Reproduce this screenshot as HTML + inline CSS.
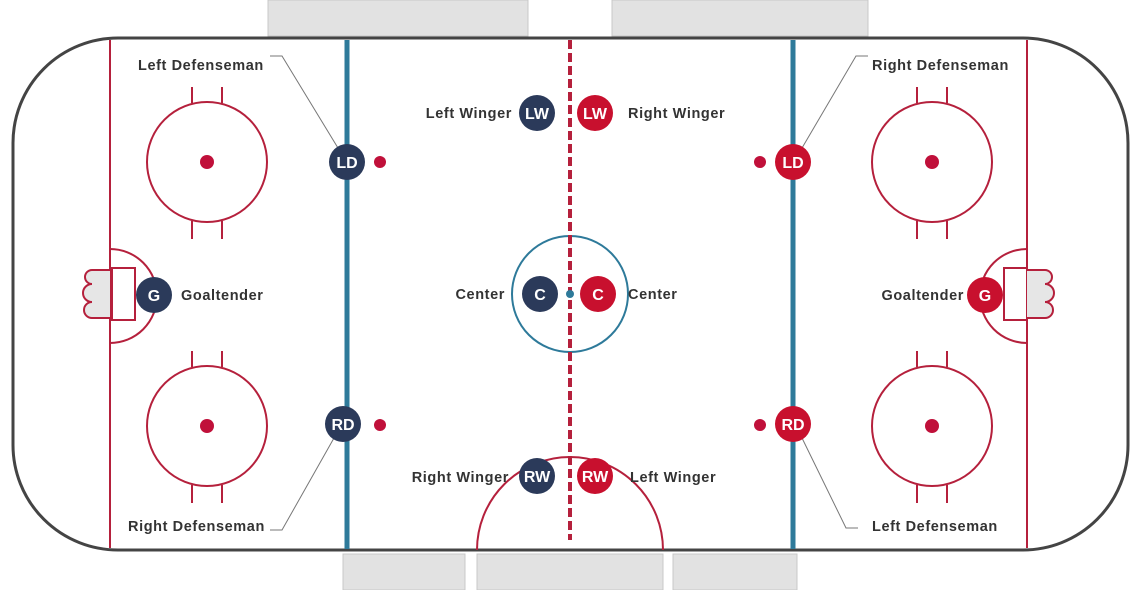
<!DOCTYPE html>
<html><head><meta charset="utf-8"><style>
html,body{margin:0;padding:0;background:#fff}
svg{display:block}
text{font-family:"Liberation Sans",sans-serif;font-weight:bold}
.lbl{font-size:14.5px;fill:#333;letter-spacing:0.6px}
.e{text-anchor:end}
.pl{font-size:16px;fill:#fff;text-anchor:middle}
</style></head><body>
<svg width="1140" height="590" viewBox="0 0 1140 590">
<g fill="#e2e2e2" stroke="#c8c8c8">
<rect x="268" y="0" width="260" height="36"/>
<rect x="612" y="0" width="256" height="36"/>
<rect x="343" y="554" width="122" height="36"/>
<rect x="477" y="554" width="186" height="36"/>
<rect x="673" y="554" width="124" height="36"/>
</g>
<rect x="13" y="38" width="1115" height="512" rx="105" ry="105" fill="#fff" stroke="#444" stroke-width="3"/>
<g stroke="#b5203c" stroke-width="2" fill="none">
<line x1="110" y1="40" x2="110" y2="548"/>
<line x1="1027" y1="40" x2="1027" y2="548"/>
<circle cx="207" cy="162" r="60"/><circle cx="207" cy="426" r="60"/>
<circle cx="932" cy="162" r="60"/><circle cx="932" cy="426" r="60"/>
<path d="M192 87v16M222 87v16M192 221v18M222 221v18M192 351v16M222 351v16M192 485v18M222 485v18"/>
<path d="M917 87v16M947 87v16M917 221v18M947 221v18M917 351v16M947 351v16M917 485v18M947 485v18"/>
<path d="M110 249 A47 47 0 0 1 110 343"/>
<path d="M1027 249 A47 47 0 0 0 1027 343"/>
<rect x="112" y="268" width="23" height="52" fill="#fff"/>
<rect x="1004" y="268" width="23" height="52" fill="#fff"/>
<path d="M110 270 h-18 a6 6 0 0 0 0 14 a8 8 0 0 0 0 18 a6 6 0 0 0 0 16 h18" fill="#e6e6e6"/>
<path d="M1027 270 h18 a6 6 0 0 1 0 14 a8 8 0 0 1 0 18 a6 6 0 0 1 0 16 h-18" fill="#e6e6e6"/>
<path d="M477 550 A93 93 0 0 1 663 550"/>
</g>
<g fill="#c0103a">
<circle cx="207" cy="162" r="7"/><circle cx="207" cy="426" r="7"/>
<circle cx="932" cy="162" r="7"/><circle cx="932" cy="426" r="7"/>
<circle cx="380" cy="162" r="6"/><circle cx="380" cy="425" r="6"/>
<circle cx="760" cy="162" r="6"/><circle cx="760" cy="425" r="6"/>
</g>
<line x1="347" y1="40" x2="347" y2="549" stroke="#2e7a9a" stroke-width="5"/>
<line x1="793" y1="40" x2="793" y2="549" stroke="#2e7a9a" stroke-width="5"/>
<circle cx="570" cy="294" r="58" fill="none" stroke="#2e7a9a" stroke-width="2"/>
<line x1="570" y1="40" x2="570" y2="540" stroke="#b5203c" stroke-width="4" stroke-dasharray="9,4"/>
<circle cx="570" cy="294" r="4" fill="#2e7a9a"/>
<g stroke="#777" stroke-width="1" fill="none">
<path d="M270 56 h12 L338 148"/>
<path d="M270 530 h12 L334 438"/>
<path d="M868 56 h-12 L802 148"/>
<path d="M858 528 h-12 L802 438"/>
</g>
<g fill="#2b3a5a">
<circle cx="347" cy="162" r="18"/><circle cx="343" cy="424" r="18"/>
<circle cx="154" cy="295" r="18"/>
<circle cx="537" cy="113" r="18"/><circle cx="540" cy="294" r="18"/><circle cx="537" cy="476" r="18"/>
</g>
<g fill="#c8102e">
<circle cx="793" cy="162" r="18"/><circle cx="793" cy="424" r="18"/>
<circle cx="985" cy="295" r="18"/>
<circle cx="595" cy="113" r="18"/><circle cx="598" cy="294" r="18"/><circle cx="595" cy="476" r="18"/>
</g>
<g>
<text x="347" y="168" class="pl">LD</text><text x="343" y="430" class="pl">RD</text>
<text x="154" y="301" class="pl">G</text>
<text x="537" y="119" class="pl">LW</text><text x="540" y="300" class="pl">C</text><text x="537" y="482" class="pl">RW</text>
<text x="793" y="168" class="pl">LD</text><text x="793" y="430" class="pl">RD</text>
<text x="985" y="301" class="pl">G</text>
<text x="595" y="119" class="pl">LW</text><text x="598" y="300" class="pl">C</text><text x="595" y="482" class="pl">RW</text>
</g>
<g>
<text x="138" y="70" class="lbl">Left Defenseman</text>
<text x="128" y="531" class="lbl">Right Defenseman</text>
<text x="181" y="300" class="lbl">Goaltender</text>
<text x="512" y="118" class="lbl e">Left Winger</text>
<text x="505" y="299" class="lbl e">Center</text>
<text x="509" y="482" class="lbl e">Right Winger</text>
<text x="628" y="118" class="lbl">Right Winger</text>
<text x="628" y="299" class="lbl">Center</text>
<text x="630" y="482" class="lbl">Left Winger</text>
<text x="872" y="70" class="lbl">Right Defenseman</text>
<text x="872" y="531" class="lbl">Left Defenseman</text>
<text x="964" y="300" class="lbl e">Goaltender</text>
</g>
</svg>
</body></html>
